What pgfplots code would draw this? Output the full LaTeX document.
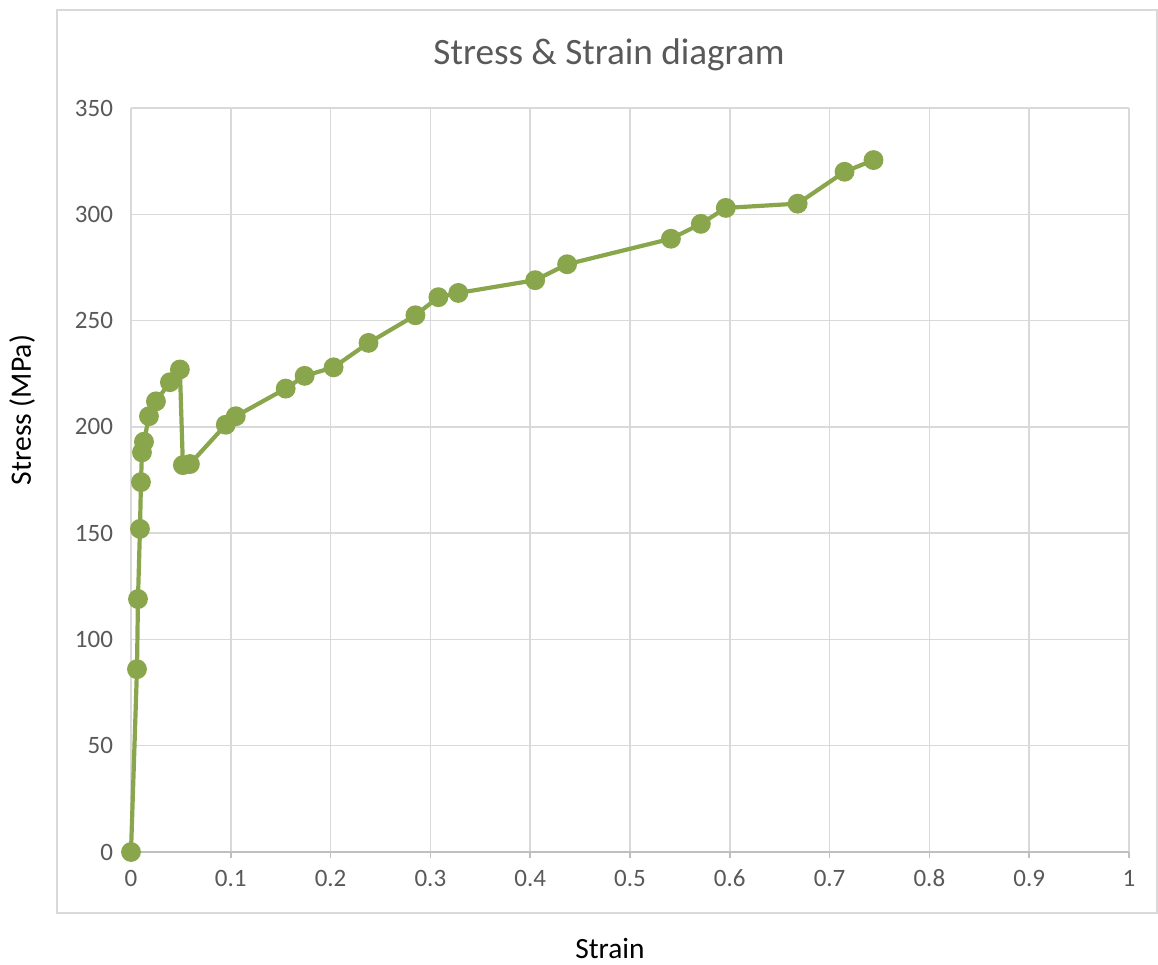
\documentclass[border=0pt]{standalone}
\usepackage{fontspec}
\setmainfont{Carlito}
\usepackage{pgfplots}
\pgfplotsset{compat=1.18}
\definecolor{linegreen}{HTML}{8AA64C}
\definecolor{txtgray}{HTML}{595959}
\definecolor{gridgray}{HTML}{D9D9D9}
\definecolor{axgray}{HTML}{BFBFBF}
\begin{document}
\begin{tikzpicture}[x=1pt,y=1pt]
% canvas and chart border
\path[fill=white] (-65.5,-56.5) rectangle (513.5,426);
\draw[gridgray,line width=0.8pt] (-37,-30.5) rectangle (513,421);
\begin{axis}[
  at={(0,0)}, anchor=origin,
  scale only axis,
  width=499pt, height=372pt,
  xmin=0, xmax=1, ymin=0, ymax=350,
  xtick={0,0.1,...,1.0},
  xticklabels={0,0.1,0.2,0.3,0.4,0.5,0.6,0.7,0.8,0.9,1},
  ytick={0,50,...,350},
  grid=major,
  major grid style={gridgray,line width=0.75pt},
  axis lines*=left,
  axis line style={-,axgray,line width=0.75pt},
  x axis line style={-,axgray,line width=0.75pt},
  y axis line style={draw=none},
  xtick style={axgray,line width=0.75pt},
  ytick style={draw=none},
  xtick align=outside,
  major tick length=3pt,
  tick label style={font=\fontsize{12.5}{14}\selectfont, text=txtgray},
  xticklabel style={yshift=-1.5pt, text height=9pt, text depth=0pt},
  yticklabel style={xshift=-5.5pt},
  /pgf/number format/assume math mode=true,
  clip=false,
]
\addplot[color=linegreen, line width=2.1pt, mark=*, mark size=3.9pt, mark options={solid, fill=linegreen, draw=none}] coordinates {
(0,0)
(0.006,86)
(0.007,119)
(0.009,152)
(0.010,174)
(0.011,188)
(0.013,193)
(0.018,205)
(0.025,212)
(0.039,221)
(0.049,227)
(0.052,182)
(0.059,182.5)
(0.095,201)
(0.105,205)
(0.155,218)
(0.174,224)
(0.203,228)
(0.238,239.5)
(0.285,252.5)
(0.308,261)
(0.328,263)
(0.405,269)
(0.437,276.5)
(0.541,288.5)
(0.571,295.5)
(0.596,303)
(0.668,305)
(0.715,320)
(0.744,325.5)
};
\end{axis}
\node[text=txtgray, font=\fontsize{18.6}{22}\selectfont] at (239,398.5) {Stress \& Strain diagram};
\node[text=black, font=\fontsize{14.8}{17}\selectfont, rotate=90] at (-54.5,221) {Stress (MPa)};
\node[text=black, font=\fontsize{14.7}{17}\selectfont] at (239.5,-48) {Strain};
\end{tikzpicture}
\end{document}
